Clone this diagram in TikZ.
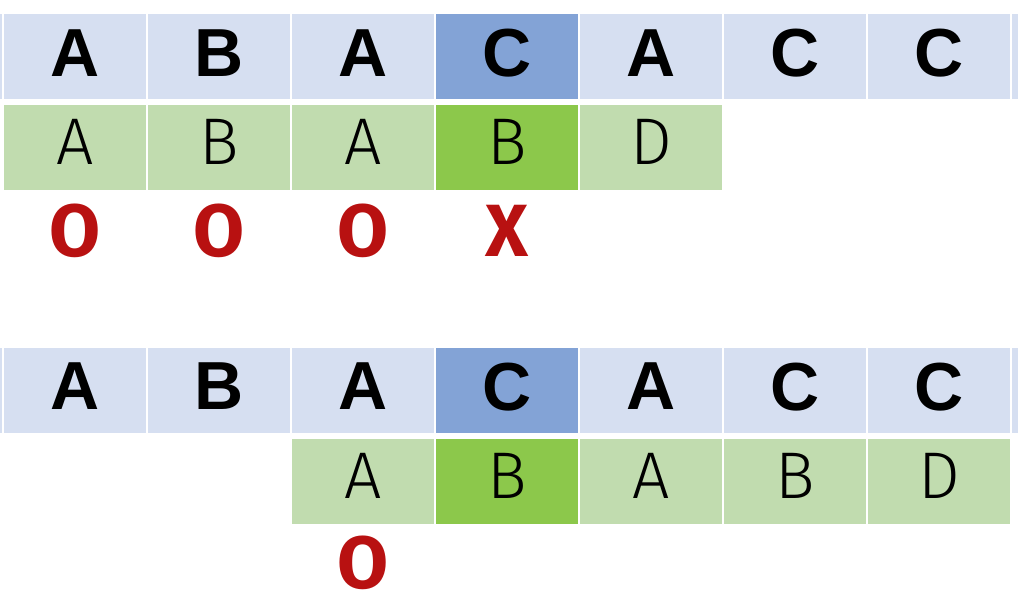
\documentclass[tikz,border=0pt]{standalone}
\usepackage{fontspec}
\setmainfont{Liberation Sans}
\newfontfamily\thinfont{Fira Sans Light}
\newfontfamily\markfont{Fira Sans Bold}
\definecolor{lblue}{HTML}{D6DFF1}
\definecolor{dblue}{HTML}{83A3D6}
\definecolor{lgreen}{HTML}{C1DCAF}
\definecolor{dgreen}{HTML}{8CC84B}
\definecolor{mred}{HTML}{B81111}
\begin{document}
\begin{tikzpicture}[x=1pt,y=-1pt,
  cell/.style={minimum width=142pt,minimum height=85pt,inner sep=0pt,outer sep=0pt},
  pat/.style={cell,fill=lblue,font=\fontsize{68}{70}\selectfont\bfseries,text depth=7pt},
  pathi/.style={pat,fill=dblue},
  txt/.style={cell,fill=lgreen,font=\thinfont\fontsize{66}{70}\selectfont,text depth=11pt},
  txthi/.style={txt,fill=dgreen},
  verdict/.style={inner sep=0pt,anchor=base,text=mred,font=\markfont\fontsize{74}{76}\selectfont}]
\useasboundingbox (0,0) rectangle (1018,604);
\clip (0,0) rectangle (1018,604);
% ---- first alignment ----
\node[pat] (a0) at (-69,56.5) {};
\node[pat] (a1) at (75,56.5) {A};
\node[pat] (a2) at (219,56.5) {B};
\node[pat] (a3) at (363,56.5) {A};
\node[pathi] (a4) at (507,56.5) {C};
\node[pat] (a5) at (651,56.5) {A};
\node[pat] (a6) at (795,56.5) {C};
\node[pat] (a7) at (939,56.5) {C};
\node[pat] (a8) at (1083,56.5) {};
\node[txt] (b1) at (75,147.5) {A};
\node[txt] (b2) at (219,147.5) {B};
\node[txt] (b3) at (363,147.5) {A};
\node[txthi] (b4) at (507,147.5) {B};
\node[txt] (b5) at (651,147.5) {D};
\node[verdict] (m1) at (75,257) {O};
\node[verdict] (m2) at (219,257) {O};
\node[verdict] (m3) at (363,257) {O};
\node[verdict] (m4) at (507,257) {X};
% ---- second alignment ----
\node[pat] (c0) at (-69,390) {};
\node[pat] (c1) at (75,390) {A};
\node[pat] (c2) at (219,390) {B};
\node[pat] (c3) at (363,390) {A};
\node[pathi] (c4) at (507,390) {C};
\node[pat] (c5) at (651,390) {A};
\node[pat] (c6) at (795,390) {C};
\node[pat] (c7) at (939,390) {C};
\node[pat] (c8) at (1083,390) {};
\node[txt] (d3) at (363,481) {A};
\node[txthi] (d4) at (507,481) {B};
\node[txt] (d5) at (651,481) {A};
\node[txt] (d6) at (795,481) {B};
\node[txt] (d7) at (939,481) {D};
\node[verdict] (n3) at (363,588) {O};
\end{tikzpicture}
\end{document}
